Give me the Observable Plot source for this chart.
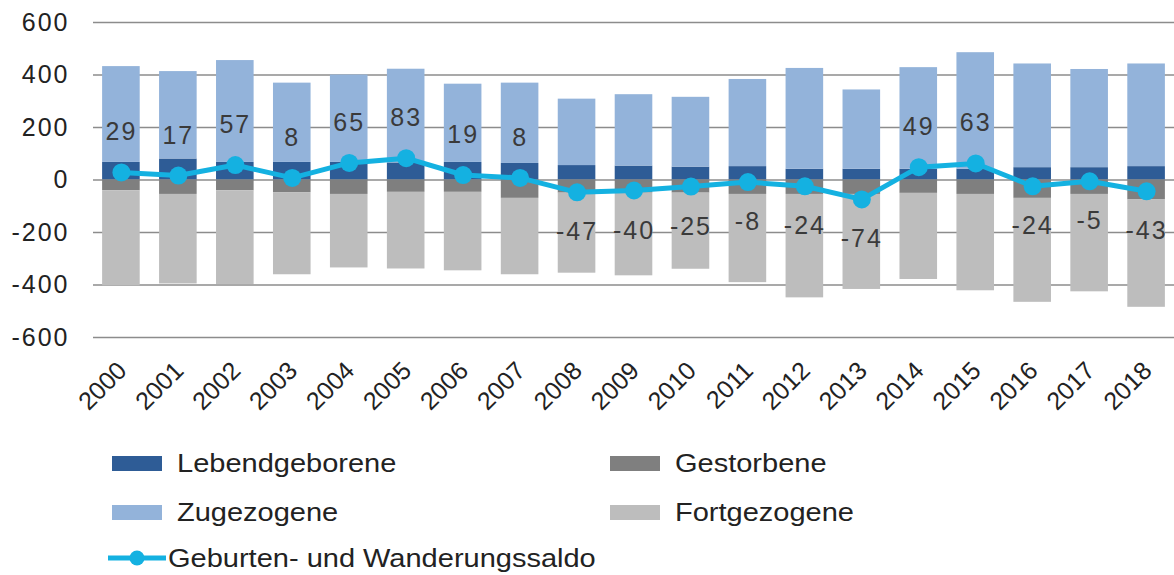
<!DOCTYPE html>
<html>
<head>
<meta charset="utf-8">
<script src="https://cdn.jsdelivr.net/npm/d3@7"></script>
<script src="https://cdn.jsdelivr.net/npm/@observablehq/plot@0.6"></script>
<style>
  body { margin: 0; background: #fff; font-family: "Liberation Sans", Arial, sans-serif; }
  #wrap { position: relative; width: 1174px; height: 575px; overflow: hidden; }
  .leg { position: absolute; font-size: 25px; color: #222; line-height: 28px; white-space: nowrap; transform: scaleX(1.16); transform-origin: 0 50%; }
  .sw { position: absolute; width: 50px; height: 15px; }
</style>
</head>
<body>
<div id="wrap"></div>
<script>
const years = ["2000","2001","2002","2003","2004","2005","2006","2007","2008","2009","2010","2011","2012","2013","2014","2015","2016","2017","2018"];
const lebendgeborene = [67,80,67,67,67,65,67,63,55,53,49,51,41,41,41,41,47,47,51];
const zugezogene     = [365,333,388,302,333,357,298,306,253,272,266,332,384,302,387,444,395,374,391];
const gestorbene     = [41,55,41,48,55,47,47,70,50,50,50,55,55,55,51,55,70,55,76];
const fortgezogene   = [362,341,357,313,280,292,299,291,305,315,290,336,394,362,328,367,396,371,409];
const saldo          = [29,17,57,8,65,83,19,8,-47,-40,-25,-8,-24,-74,49,63,-24,-5,-43];
const yTicks = [-600,-400,-200,0,200,400,600];

const seriesNames = ["Lebendgeborene","Zugezogene","Gestorbene","Fortgezogene"];
const colors = ["#2e5c96","#93b3da","#7f7f7f","#bdbdbd"];
const lineColor = "#14b1e1";

const rows = [];
years.forEach((yr, i) => {
  rows.push({year: yr, series: "Lebendgeborene", value: lebendgeborene[i]});
  rows.push({year: yr, series: "Zugezogene", value: zugezogene[i]});
  rows.push({year: yr, series: "Gestorbene", value: -gestorbene[i]});
  rows.push({year: yr, series: "Fortgezogene", value: -fortgezogene[i]});
});
const line = years.map((yr, i) => ({year: yr, saldo: saldo[i]}));

const chart = Plot.plot({
  width: 1174,
  height: 432,
  marginTop: 22,
  marginBottom: 95,
  marginLeft: 93,
  marginRight: 0,
  style: {fontFamily: "Liberation Sans, Arial, sans-serif", fontSize: "25px", color: "#222", background: "#fff", letterSpacing: "2px", overflow: "visible"},
  x: {domain: years, paddingInner: 0.34, paddingOuter: 0.16, round: false, label: null},
  y: {domain: [-600, 600], label: null},
  color: {domain: seriesNames, range: colors},
  marks: [
    Plot.ruleY(yTicks, {stroke: "#8c8c8c", strokeWidth: 1.5}),
    Plot.axisY({ticks: yTicks, tickSize: 0, tickPadding: 24, tickFormat: d => String(d), label: null}),
    Plot.axisX({tickSize: 0, tickRotate: -45, tickPadding: 29, dx: 1, fontSize: 25, label: null}),
    Plot.barY(rows, {x: "year", y: "value", fill: "series", order: seriesNames}),
    Plot.line(line, {x: "year", y: "saldo", stroke: lineColor, strokeWidth: 5}),
    Plot.dot(line, {x: "year", y: "saldo", fill: lineColor, r: 9}),
    Plot.text(line.filter(d => d.saldo >= 0), {x: "year", y: "saldo", text: d => String(d.saldo), dy: -40, fill: "#3a3a3a", fontSize: 25}),
    Plot.text(line.filter(d => d.saldo < 0), {x: "year", y: "saldo", text: d => String(d.saldo), dy: 40, fill: "#3a3a3a", fontSize: 25})
  ]
});
const wrap = document.getElementById("wrap");
wrap.appendChild(chart);
// x tick labels: drop the letter spacing inherited from the svg style
chart.querySelectorAll('[aria-label="x-axis tick label"] text').forEach(t => t.style.letterSpacing = "0px");

// Legend
const legendItems = [
  {name: "Lebendgeborene", color: colors[0], x: 112, y: 463},
  {name: "Gestorbene", color: colors[2], x: 610, y: 463},
  {name: "Zugezogene", color: colors[1], x: 112, y: 512},
  {name: "Fortgezogene", color: colors[3], x: 610, y: 512}
];
legendItems.forEach(it => {
  const sw = document.createElement("div");
  sw.className = "sw";
  sw.style.left = it.x + "px";
  sw.style.top = (it.y - 7) + "px";
  sw.style.background = it.color;
  wrap.appendChild(sw);
  const t = document.createElement("div");
  t.className = "leg";
  t.style.left = (it.x + 65) + "px";
  t.style.top = (it.y - 14) + "px";
  t.textContent = it.name;
  wrap.appendChild(t);
});
const ls = document.createElementNS("http://www.w3.org/2000/svg", "svg");
ls.setAttribute("width", 62); ls.setAttribute("height", 22);
ls.style.position = "absolute"; ls.style.left = "106px"; ls.style.top = "547px";
ls.innerHTML = `<line x1="2" y1="11" x2="60" y2="11" stroke="${lineColor}" stroke-width="5"/><circle cx="31" cy="11" r="7.5" fill="${lineColor}"/>`;
wrap.appendChild(ls);
const lt = document.createElement("div");
lt.className = "leg";
lt.style.left = "168px"; lt.style.top = "544px";
lt.textContent = "Geburten- und Wanderungssaldo";
wrap.appendChild(lt);
</script>
</body>
</html>
